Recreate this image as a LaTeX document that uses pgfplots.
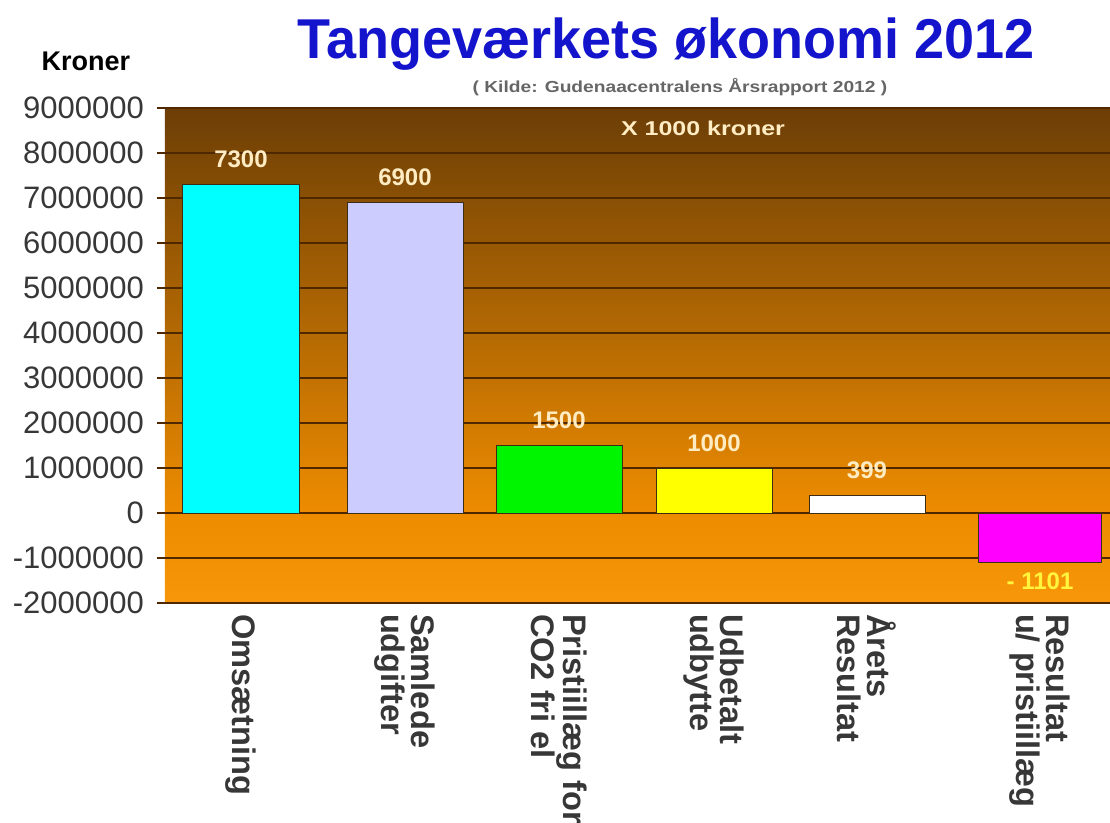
\documentclass[border=0pt]{standalone}
\usepackage{pgfplots}
\pgfplotsset{compat=1.18}
\usepackage{fontspec}
\setmainfont{Liberation Sans}
\definecolor{titleblue}{RGB}{20,20,205}
\definecolor{topbrown}{RGB}{108,62,6}
\definecolor{midorange}{RGB}{238,140,0}
\definecolor{lowOrange}{RGB}{248,150,10}
\definecolor{gridbrown}{RGB}{80,40,0}
\definecolor{cream}{RGB}{255,236,195}
\definecolor{ticklab}{RGB}{55,55,55}
\definecolor{baredge}{RGB}{60,45,20}
\definecolor{lav}{RGB}{204,204,255}
\definecolor{grn}{RGB}{0,245,0}
\definecolor{yel}{RGB}{255,255,0}
\definecolor{mag}{RGB}{255,0,255}
\definecolor{cya}{RGB}{0,255,255}
\definecolor{lbl}{RGB}{255,245,60}
\pgfdeclareverticalshading{bgshade}{100bp}{color(0bp)=(lowOrange); color(25bp)=(lowOrange); color(34.09bp)=(midorange); color(75bp)=(topbrown); color(100bp)=(topbrown)}
\begin{document}
\begin{tikzpicture}
\path[use as bounding box] (0,0) rectangle (555pt,411.5pt);
\node[font=\bfseries\fontsize{27}{30}\selectfont, text=titleblue, yscale=1.04] at (333pt,389.5pt) {Tangeværkets økonomi 2012};
\node[font=\bfseries\fontsize{8}{9}\selectfont, text=black!60, xscale=1.2] at (340pt,368pt) {( Kilde: Gudenaacentralens Årsrapport 2012 )};
\node[font=\bfseries\fontsize{13.5}{15}\selectfont] at (43pt,381pt) {Kroner};
\begin{axis}[
  at={(82.5pt,110pt)}, anchor=south west,
  scale only axis, width=472.5pt, height=247.5pt,
  xmin=165, xmax=1110, ymin=-2000000, ymax=9000000,
  axis background/.style={shading=bgshade},
  ytick={-2000000,-1000000,...,9000000},
  scaled y ticks=false,
  yticklabel style={/pgf/number format/fixed, /pgf/number format/1000 sep={}, font=\fontsize{15.5}{17}\selectfont, text=ticklab},
  /pgf/number format/assume math mode=true,
  ymajorgrids, grid style={draw=gridbrown, line width=1pt},
  axis line style={draw=none},
  ytick style={draw=gridbrown, line width=1pt},
  major tick length=4pt, tick align=outside,
  y tick label style={xshift=-3pt},
  xtick={241,405,559,714,867,1040},
  xticklabels={Omsætning, Samlede\\udgifter, Pristiillæg for\\CO2 fri el, Udbetalt\\udbytte, Årets\\Resultat, Resultat\\u/ pristiillæg},
  x tick style={draw=none},
  xticklabel style={rotate=-90, anchor=west, align=left, font=\bfseries\fontsize{16.3}{15}\selectfont, text=ticklab, xshift=-2pt},
  ybar,
  nodes near coords style={font=\bfseries\fontsize{12}{14}\selectfont, text=cream, inner sep=8pt},
  clip=false,
]
\addplot[fill=cya, draw=baredge, bar shift=0pt, bar width=117, nodes near coords={7300}] coordinates {(241,7300000)};
\addplot[fill=lav, draw=baredge, bar shift=0pt, bar width=116, nodes near coords={6900}] coordinates {(405,6900000)};
\addplot[fill=grn, draw=baredge, bar shift=0pt, bar width=126, nodes near coords={1500}] coordinates {(559,1500000)};
\addplot[fill=yel, draw=baredge, bar shift=0pt, bar width=116, nodes near coords={1000}] coordinates {(714,1000000)};
\addplot[fill=white, draw=baredge, bar shift=0pt, bar width=116, nodes near coords={399}] coordinates {(867,399000)};
\addplot[fill=mag, draw=baredge, bar shift=0pt, bar width=123, nodes near coords={- 1101}, nodes near coords style={text=lbl, inner sep=5pt}] coordinates {(1040,-1101000)};
\node[font=\bfseries\fontsize{10}{12}\selectfont, text=cream, xscale=1.25] at (axis cs:703,8550000) {X 1000 kroner};
\end{axis}
\end{tikzpicture}
\end{document}
